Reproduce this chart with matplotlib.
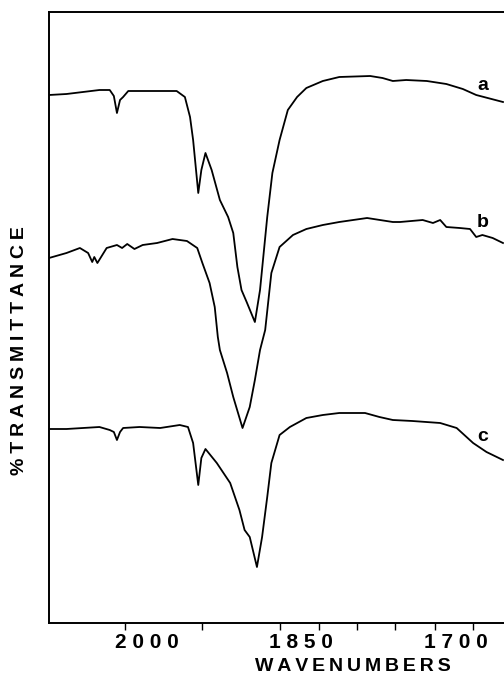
import matplotlib
matplotlib.use("Agg")
import matplotlib.pyplot as plt
import numpy as np

plt.rcParams['font.family'] = ['Liberation Sans', 'DejaVu Sans']

# spectrum a
wn_a = [2095, 2078, 2046, 2036, 2032, 2029, 2026, 2023, 2018, 1971, 1963, 1958, 1955, 1950,
        1947, 1943, 1937, 1929, 1921, 1916, 1912, 1908, 1903, 1895, 1890, 1883, 1878, 1871,
        1863, 1854, 1845, 1829, 1813, 1783, 1771, 1761, 1748, 1728, 1709, 1693, 1680, 1654]
t_a = [528, 529, 533, 533, 527, 510, 523, 526, 532, 532, 526, 506, 483, 430,
       453, 470, 453, 423, 406, 390, 356, 333, 321, 301, 333, 406, 450, 483,
       513, 526, 535, 542, 546, 547, 545, 542, 543, 542, 539, 534, 528, 521]

# spectrum b
wn_b = [2095, 2078, 2065, 2057, 2053, 2051, 2048, 2039, 2029, 2024, 2019, 2012, 2004, 1990,
        1975, 1961, 1951, 1946, 1939, 1934, 1931, 1929, 1922, 1916, 1907, 1900, 1895, 1890,
        1885, 1879, 1871, 1858, 1845, 1829, 1813, 1786, 1761, 1754, 1732, 1722, 1715, 1709,
        1696, 1686, 1680, 1674, 1664, 1654]
t_b = [365, 370, 375, 370, 361, 366, 360, 375, 378, 375, 379, 374, 378, 380,
       384, 382, 375, 360, 340, 316, 286, 273, 250, 226, 195, 216, 243, 273,
       293, 350, 376, 388, 394, 398, 401, 405, 401, 401, 403, 400, 403, 396,
       395, 394, 386, 388, 385, 380]

# spectrum c
wn_c = [2095, 2078, 2046, 2036, 2032, 2029, 2026, 2023, 2007, 1987, 1968, 1960, 1955, 1950,
        1947, 1943, 1932, 1919, 1910, 1905, 1900, 1893, 1888, 1883, 1879, 1871, 1861, 1845,
        1829, 1813, 1788, 1774, 1761, 1742, 1715, 1699, 1683, 1670, 1654]
t_c = [194, 194, 196, 193, 191, 183, 191, 195, 196, 195, 198, 196, 180, 138,
       165, 174, 160, 140, 113, 93, 86, 56, 86, 126, 160, 188, 196, 205,
       208, 210, 210, 206, 203, 202, 200, 195, 180, 171, 163]

trace_labels = ['a', 'b', 'c']
label_wn = [1674, 1674, 1674]
label_t = [533, 396, 182]

major_ticks = [2000, 1850, 1700]
minor_ticks = [2021, 1946, 1871, 1833, 1796, 1759, 1720, 1683]

fig = plt.figure(figsize=(5.04, 6.76), dpi=100)
ax = fig.add_axes([49 / 504, 53 / 676, 455 / 504, 611 / 676])

for x, y in [(wn_a, t_a), (wn_b, t_b), (wn_c, t_c)]:
    ax.plot(x, y, color='black', lw=1.3)

for s, x, y in zip(trace_labels, label_wn, label_t):
    ax.text(x, y, s, fontsize=14, fontweight='bold', ha='center', va='baseline')

ax.set_xlim(2095, 1653)
ax.set_ylim(0, 611)
ax.spines['right'].set_visible(False)
for sp in ['top', 'left', 'bottom']:
    ax.spines[sp].set_linewidth(1.4)

ax.set_yticks([])
ax.set_xticks(major_ticks)
ax.set_xticklabels(['2 0 0 0', '1 8 5 0', '1 7 0 0'], fontsize=15, fontweight='bold')
ax.set_xticks(minor_ticks, minor=True)
ax.tick_params(axis='x', which='major', length=0, pad=7)
ax.tick_params(axis='x', which='minor', length=5, width=1, direction='out')

fig.text(353 / 504, 1 - 675 / 676, '\u2009'.join('WAVENUMBERS'), fontsize=14, fontweight='bold',
         ha='center', va='bottom')
fig.text(20 / 504, 1 - 351 / 676, '\u2005'.join('%TRANSMITTANCE'), fontsize=14, fontweight='bold',
         ha='center', va='center', rotation=90)

fig.savefig('out.png', dpi=100)
